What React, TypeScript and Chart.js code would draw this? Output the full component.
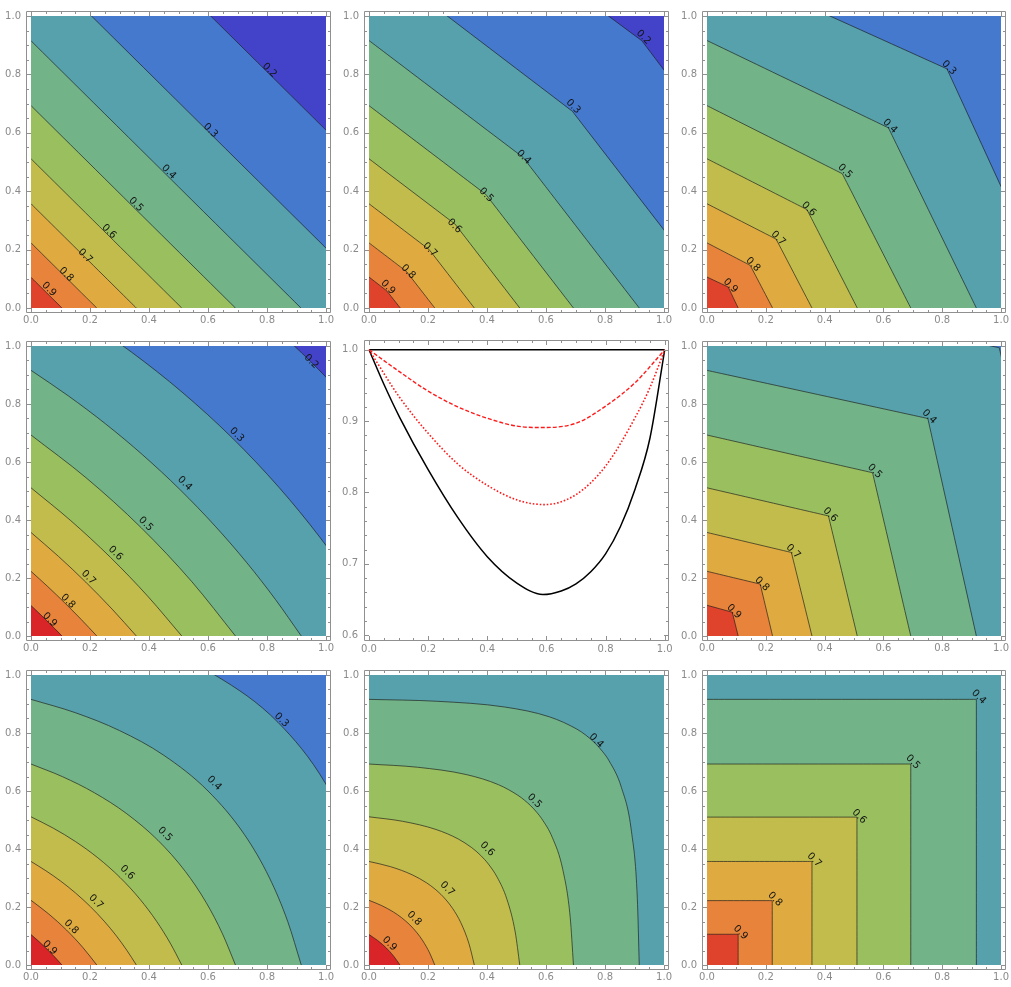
import React, { useEffect, useRef } from "react";
import { Chart, registerables } from "chart.js";

Chart.register(...registerables);

type Pt = [number, number];

// ---------------- tick labels ----------------
const UNIT_TICKS = [0, 0.2, 0.4, 0.6, 0.8, 1.0];
const CENTER_Y_TICKS = [0.6, 0.7, 0.8, 0.9, 1.0];
const UNIT_RANGE = [0, 1];
const LEVEL_TEXT = ["0.9", "0.8", "0.7", "0.6", "0.5", "0.4", "0.3", "0.2"];

// ---------------- panel 1 ----------------
const P1_CONTOURS: Pt[][] = [
  [[0, 0.105], [0.105, 0]],
  [[0, 0.223], [0.223, 0]],
  [[0, 0.357], [0.357, 0]],
  [[0, 0.511], [0.511, 0]],
  [[0, 0.693], [0.693, 0]],
  [[0, 0.915], [0.915, 0]],
  [[0, 1.205], [1.205, 0]],
  [[0, 1.609], [1.609, 0]],
];
const P1_LABELS: Pt[] = [[0.061, 0.064], [0.119, 0.115], [0.184, 0.178], [0.264, 0.262], [0.356, 0.354], [0.467, 0.466], [0.608, 0.608], [0.808, 0.814]];

// ---------------- panel 2 ----------------
const P2_CONTOURS: Pt[][] = [
  [[0, 0.106], [0.06, 0.059], [0.106, 0]],
  [[0, 0.223], [0.127, 0.125], [0.223, 0]],
  [[0, 0.357], [0.204, 0.2], [0.357, 0]],
  [[0, 0.511], [0.292, 0.287], [0.511, 0]],
  [[0, 0.693], [0.396, 0.389], [0.693, 0]],
  [[0, 0.916], [0.522, 0.516], [0.916, 0]],
  [[0, 1.204], [0.689, 0.674], [1.204, 0]],
  [[0, 1.609], [0.925, 0.915], [1.609, 0]],
];
const P2_LABELS: Pt[] = [[0.064, 0.071], [0.133, 0.124], [0.207, 0.199], [0.29, 0.281], [0.397, 0.387], [0.524, 0.516], [0.692, 0.69], [0.93, 0.927]];

// ---------------- panel 3 ----------------
const P3_CONTOURS: Pt[][] = [
  [[0, 0.106], [0.072, 0.072], [0.106, 0]],
  [[0, 0.223], [0.147, 0.146], [0.223, 0]],
  [[0, 0.357], [0.235, 0.236], [0.357, 0]],
  [[0, 0.511], [0.34, 0.337], [0.511, 0]],
  [[0, 0.693], [0.46, 0.46], [0.693, 0]],
  [[0, 0.916], [0.617, 0.617], [0.916, 0]],
  [[0, 1.19], [0.816, 0.819], [1.19, 0]],
];
const P3_LABELS: Pt[] = [[0.08, 0.076], [0.156, 0.149], [0.242, 0.239], [0.346, 0.339], [0.469, 0.468], [0.622, 0.622], [0.823, 0.823]];

// ---------------- panel 4 ----------------
const P4_CONTOURS: Pt[][] = [
  [[0, 0.105], [0.0266, 0.0794], [0.0531, 0.0531], [0.0794, 0.0266], [0.105, 0]],
  [[0, 0.223], [0.0572, 0.17], [0.1143, 0.1143], [0.17, 0.0572], [0.223, 0]],
  [[0, 0.357], [0.0928, 0.2748], [0.1857, 0.1857], [0.2748, 0.0928], [0.357, 0]],
  [[0, 0.511], [0.1351, 0.3975], [0.2702, 0.2702], [0.3975, 0.1351], [0.511, 0]],
  [[0, 0.693], [0.1867, 0.5456], [0.3734, 0.3734], [0.5456, 0.1867], [0.693, 0]],
  [[0, 0.916], [0.1262, 0.8283], [0.2525, 0.7316], [0.3787, 0.6243], [0.5049, 0.5049], [0.6243, 0.3787], [0.7316, 0.2525], [0.8283, 0.1262], [0.916, 0]],
  [[0, 1.204], [0.1706, 1.0984], [0.3413, 0.9784], [0.5119, 0.841], [0.6826, 0.6826], [0.841, 0.5119], [0.9784, 0.3413], [1.0984, 0.1706], [1.204, 0]],
  [[0, 1.609], [0.2368, 1.4844], [0.4735, 1.3371], [0.7103, 1.161], [0.947, 0.947], [1.161, 0.7103], [1.3371, 0.4735], [1.4844, 0.2368], [1.609, 0]],
];
const P4_LABELS: Pt[] = [[0.0635, 0.056], [0.125, 0.12], [0.195, 0.2016], [0.2865, 0.2856], [0.389, 0.386], [0.521, 0.526], [0.697, 0.694], [0.95, 0.946]];

// ---------------- panel 6 ----------------
const P6_CONTOURS: Pt[][] = [
  [[0, 0.106], [0.086, 0.082], [0.106, 0]],
  [[0, 0.223], [0.181, 0.179], [0.223, 0]],
  [[0, 0.357], [0.287, 0.288], [0.357, 0]],
  [[0, 0.511], [0.413, 0.414], [0.511, 0]],
  [[0, 0.693], [0.563, 0.563], [0.693, 0]],
  [[0, 0.916], [0.751, 0.75], [0.916, 0]],
  [[0, 1.21], [0.994, 0.994], [1.215, 0]],
];
const P6_LABELS: Pt[] = [[0.092, 0.084], [0.187, 0.179], [0.293, 0.291], [0.419, 0.418], [0.57, 0.568], [0.756, 0.756]];

// ---------------- panel 7 ----------------
const P7_CONTOURS: Pt[][] = [
  [[0, 0.105], [0.0272, 0.0807], [0.0545, 0.0545], [0.0807, 0.0272], [0.105, 0]],
  [[0, 0.223], [0.0602, 0.1759], [0.1205, 0.1205], [0.1759, 0.0602], [0.223, 0]],
  [[0, 0.357], [0.0503, 0.3251], [0.1007, 0.2892], [0.151, 0.2482], [0.2013, 0.2013], [0.2482, 0.151], [0.2892, 0.1007], [0.3251, 0.0503], [0.357, 0]],
  [[0, 0.511], [0.0754, 0.4719], [0.1509, 0.4255], [0.2263, 0.3698], [0.3018, 0.3018], [0.3698, 0.2263], [0.4255, 0.1509], [0.4719, 0.0754], [0.511, 0]],
  [[0, 0.693], [0.1075, 0.649], [0.2151, 0.5938], [0.3226, 0.5231], [0.4301, 0.4301], [0.5231, 0.3226], [0.5938, 0.2151], [0.649, 0.1075], [0.693, 0]],
  [[0, 0.916], [0.15, 0.8701], [0.3, 0.8084], [0.45, 0.7232], [0.6, 0.6], [0.7232, 0.45], [0.8084, 0.3], [0.8701, 0.15], [0.916, 0]],
  [[0, 1.204], [0.2092, 1.16], [0.4185, 1.0954], [0.6277, 0.9972], [0.8369, 0.8369], [0.9972, 0.6277], [1.0954, 0.4185], [1.16, 0.2092], [1.204, 0]],
];
const P7_LABELS: Pt[] = [[0.0635, 0.059], [0.136, 0.131], [0.22, 0.218], [0.326, 0.319], [0.454, 0.451], [0.621, 0.627], [0.849, 0.845]];

// ---------------- panel 8 ----------------
const P8_CONTOURS: Pt[][] = [
  [[0, 0.105], [0.0293, 0.0845], [0.0469, 0.0698], [0.0586, 0.0586], [0.0698, 0.0469], [0.0845, 0.0293], [0.105, 0]],
  [[0, 0.223], [0.0415, 0.2056], [0.083, 0.1826], [0.1107, 0.163], [0.1384, 0.1384], [0.163, 0.1107], [0.1826, 0.083], [0.2056, 0.0415], [0.223, 0]],
  [[0, 0.357], [0.0731, 0.339], [0.1462, 0.3111], [0.1949, 0.2835], [0.2241, 0.2615], [0.2436, 0.2436], [0.2615, 0.2241], [0.2835, 0.1949], [0.3111, 0.1462], [0.339, 0.0731], [0.357, 0]],
  [[0, 0.511], [0.1135, 0.4956], [0.2269, 0.4674], [0.3026, 0.4345], [0.348, 0.4048], [0.3631, 0.3924], [0.3782, 0.3782], [0.3924, 0.3631], [0.4048, 0.348], [0.4345, 0.3026], [0.4674, 0.2269], [0.4956, 0.1135], [0.511, 0]],
  [[0, 0.693], [0.1646, 0.6819], [0.3291, 0.6568], [0.4389, 0.6217], [0.5047, 0.5852], [0.5266, 0.5685], [0.5486, 0.5486], [0.5685, 0.5266], [0.5852, 0.5047], [0.6217, 0.4389], [0.6568, 0.3291], [0.6819, 0.1646], [0.693, 0]],
  [[0, 0.916], [0.2297, 0.9094], [0.4593, 0.8897], [0.6125, 0.8554], [0.7043, 0.8135], [0.735, 0.7925], [0.7656, 0.7656], [0.7925, 0.735], [0.8135, 0.7043], [0.8554, 0.6125], [0.8897, 0.4593], [0.9094, 0.2297], [0.916, 0]],
];
const P8_LABELS: Pt[] = [[0.069, 0.073], [0.153, 0.16], [0.265, 0.263], [0.401, 0.4], [0.561, 0.5655], [0.77, 0.773]];

// ---------------- panel 9 ----------------
const P9_CONTOURS: Pt[][] = [
  [[0, 0.106], [0.106, 0.106], [0.106, 0]],
  [[0, 0.222], [0.222, 0.222], [0.222, 0]],
  [[0, 0.357], [0.357, 0.357], [0.357, 0]],
  [[0, 0.51], [0.51, 0.51], [0.51, 0]],
  [[0, 0.693], [0.693, 0.693], [0.693, 0]],
  [[0, 0.916], [0.916, 0.916], [0.916, 0]],
];
const P9_LABELS: Pt[] = [[0.114, 0.112], [0.231, 0.227], [0.365, 0.362], [0.518, 0.512], [0.7, 0.7], [0.924, 0.924]];

// ---------------- centre panel curves ----------------
const CURVE_SOLID: Pt[] = [[0, 1], [0.05, 0.952], [0.104, 0.905], [0.2, 0.832], [0.3, 0.765], [0.4, 0.71], [0.5, 0.673], [0.588, 0.657], [0.65, 0.662], [0.7, 0.672], [0.75, 0.689], [0.8, 0.714], [0.85, 0.752], [0.9, 0.805], [0.95, 0.876], [1, 1]];
const CURVE_DOTTED: Pt[] = [[0, 1], [0.104, 0.933], [0.2, 0.883], [0.3, 0.84], [0.4, 0.81], [0.504, 0.789], [0.594, 0.783], [0.7, 0.797], [0.8, 0.837], [0.9, 0.905], [0.95, 0.947], [1, 1]];
const CURVE_DASHED: Pt[] = [[0, 1], [0.104, 0.969], [0.2, 0.942], [0.3, 0.92], [0.4, 0.904], [0.5, 0.893], [0.58, 0.891], [0.7, 0.897], [0.8, 0.921], [0.9, 0.954], [1, 1]];
const CURVE_UPPER: Pt[] = [[0, 1], [1, 1]];

// ---------------- styles ----------------
const BAND_COLORS = ["#df432c", "#e7833a", "#dfaa40", "#c1bc4b", "#99bf5f", "#72b487", "#56a1ab", "#4479cd", "#4343c9"];
const RED_SMOOTH = "#d92528";
const CONTOUR_LINE = "rgba(30,30,30,0.75)";
const FRAME_COLOR = "#909090";
const TICK_TEXT = "#8a8a8a";
const TICK_FONT = { family: "'DejaVu Sans', sans-serif", size: 10 };

const COL_LEFT = [31, 369, 707];
const COL_W = [299, 299, 298];
const ROW_TOP = [9, 339, 668];
const ROW_H = [299, 297, 297];

const framePlugin = {
  id: "mmaFrame",
  afterDraw(chart: any, _a: any, opts: any) {
    const { ctx, chartArea: a, scales } = chart;
    const xs = scales.x;
    const ys = scales.y;
    const p = opts.pad || 0;
    const L = Math.floor(a.left - p) + 0.5;
    const R = Math.ceil(a.right + p) - 0.5;
    const T = Math.floor(a.top - p) + 0.5;
    const B = Math.ceil(a.bottom + p) - 0.5;
    ctx.save();
    ctx.strokeStyle = FRAME_COLOR;
    ctx.lineWidth = 1;
    ctx.beginPath();
    ctx.rect(L, T, R - L, B - T);
    ctx.stroke();
    const isMajor = (v: number, majors: number[]) => majors.some((m) => Math.abs(m - v) < 1e-6);
    ctx.beginPath();
    for (let v = opts.xFrom; v <= opts.xTo + 1e-9; v += opts.xStep) {
      const px = Math.round(xs.getPixelForValue(v)) + 0.5;
      const len = isMajor(v, opts.xMajor) ? 4.5 : 2.5;
      ctx.moveTo(px, B);
      ctx.lineTo(px, B - len);
      ctx.moveTo(px, T);
      ctx.lineTo(px, T + len);
    }
    for (let v = opts.yFrom; v <= opts.yTo + 1e-9; v += opts.yStep) {
      const py = Math.round(ys.getPixelForValue(v)) + 0.5;
      const len = isMajor(v, opts.yMajor) ? 4.5 : 2.5;
      ctx.moveTo(L, py);
      ctx.lineTo(L + len, py);
      ctx.moveTo(R, py);
      ctx.lineTo(R - len, py);
    }
    ctx.stroke();
    ctx.restore();
  },
};

const contourLabelPlugin = {
  id: "contourLabels",
  afterDatasetsDraw(chart: any, _a: any, opts: any) {
    if (!opts.items) return;
    const { ctx, scales } = chart;
    ctx.save();
    ctx.font = "10px 'DejaVu Sans', sans-serif";
    ctx.fillStyle = "#141414";
    ctx.textAlign = "center";
    ctx.textBaseline = "middle";
    opts.items.forEach((pt: Pt, i: number) => {
      ctx.save();
      ctx.translate(scales.x.getPixelForValue(pt[0]), scales.y.getPixelForValue(pt[1]));
      ctx.rotate(Math.PI / 4);
      ctx.fillText(opts.texts[i], 0, 0);
      ctx.restore();
    });
    ctx.restore();
  },
};

function axisCommon(extra: any) {
  return {
    type: "linear",
    grid: { display: false, drawTicks: false },
    border: { display: false },
    ...extra,
  };
}

function contourConfig(spec: any) {
  const datasets: any[] = spec.contours.map((pts: Pt[], i: number) => ({
    data: pts.map(([x, y]) => ({ x, y })),
    borderColor: CONTOUR_LINE,
    borderWidth: 0.9,
    backgroundColor: i === 0 ? spec.topColor : BAND_COLORS[i],
    fill: { value: 0 },
    pointRadius: 0,
    cubicInterpolationMode: spec.smooth ? "monotone" : "default",
    tension: spec.smooth ? 0 : 0.0001,
    borderJoinStyle: "miter",
    clip: 0,
  }));
  datasets.push({
    data: UNIT_RANGE.map((x) => ({ x, y: UNIT_RANGE[1] })),
    borderColor: "rgba(0,0,0,0)",
    borderWidth: 0,
    backgroundColor: BAND_COLORS[spec.contours.length],
    fill: { value: UNIT_RANGE[0] },
    pointRadius: 0,
    clip: 0,
  });
  return {
    type: "line",
    data: { datasets },
    options: {
      responsive: false,
      animation: false,
      events: [],
      layout: { padding: { left: 0, top: 9, right: 10, bottom: 0 } },
      elements: { line: { capBezierPoints: false }, point: { radius: 0 } },
      scales: {
        x: axisCommon({
          min: 0,
          max: 1,
          afterBuildTicks: (s: any) => { s.ticks = UNIT_TICKS.map((v) => ({ value: v })); },
          afterFit: (s: any) => { s.height = 24; },
          ticks: { padding: 6, color: TICK_TEXT, font: TICK_FONT, autoSkip: false, maxRotation: 0, callback: (v: any) => Number(v).toFixed(1) },
        }),
        y: axisCommon({
          min: 0,
          max: 1,
          afterBuildTicks: (s: any) => { s.ticks = UNIT_TICKS.map((v) => ({ value: v })); },
          afterFit: (s: any) => { s.width = 31; },
          ticks: { padding: 10, color: TICK_TEXT, font: TICK_FONT, autoSkip: false, callback: (v: any) => Number(v).toFixed(1) },
        }),
      },
      plugins: {
        legend: { display: false },
        tooltip: { enabled: false },
        filler: { drawTime: "beforeDatasetsDraw", propagate: false },
        mmaFrame: { pad: 4.5, xFrom: 0, xTo: 1, xStep: 0.05, xMajor: UNIT_TICKS, yFrom: 0, yTo: 1, yStep: 0.05, yMajor: UNIT_TICKS },
        contourLabels: { items: spec.labels, texts: LEVEL_TEXT },
      },
    },
    plugins: [framePlugin, contourLabelPlugin],
  };
}

function centerConfig() {
  const line = (pts: Pt[], color: string, width: number, dash: number[]) => ({
    data: pts.map(([x, y]) => ({ x, y })),
    borderColor: color,
    borderWidth: width,
    borderDash: dash,
    borderCapStyle: "butt",
    fill: false,
    pointRadius: 0,
    cubicInterpolationMode: "monotone",
  });
  return {
    type: "line",
    data: {
      datasets: [
        line(CURVE_DASHED, "#ff1a1a", 1.4, [4, 2]),
        line(CURVE_DOTTED, "#ff1a1a", 1.6, [1.6, 1.9]),
        line(CURVE_SOLID, "#000000", 1.5, []),
        line(CURVE_UPPER, "#000000", 1.6, []),
      ],
    },
    options: {
      responsive: false,
      animation: false,
      events: [],
      layout: { padding: { left: 0, top: 5, right: 8, bottom: 0 } },
      elements: { point: { radius: 0 } },
      scales: {
        x: axisCommon({
          min: -0.0169,
          max: 1.0145,
          afterBuildTicks: (s: any) => { s.ticks = UNIT_TICKS.map((v) => ({ value: v })); },
          afterFit: (s: any) => { s.height = 20; },
          ticks: { padding: 2, color: TICK_TEXT, font: TICK_FONT, autoSkip: false, maxRotation: 0, callback: (v: any) => Number(v).toFixed(1) },
        }),
        y: axisCommon({
          min: 0.5918,
          max: 1.0137,
          afterBuildTicks: (s: any) => { s.ticks = CENTER_Y_TICKS.map((v) => ({ value: v })); },
          afterFit: (s: any) => { s.width = 27; },
          ticks: { padding: 6, color: TICK_TEXT, font: TICK_FONT, autoSkip: false, callback: (v: any) => Number(v).toFixed(1) },
        }),
      },
      plugins: {
        legend: { display: false },
        tooltip: { enabled: false },
        mmaFrame: { pad: 0, xFrom: 0, xTo: 1, xStep: 0.05, xMajor: UNIT_TICKS, yFrom: 0.6, yTo: 1, yStep: 0.02, yMajor: CENTER_Y_TICKS },
      },
    },
    plugins: [framePlugin],
  };
}

function ChartCanvas({ left, top, width, height, makeConfig }: any) {
  const ref = useRef<HTMLCanvasElement>(null);
  useEffect(() => {
    const chart = new Chart(ref.current as HTMLCanvasElement, makeConfig());
    return () => chart.destroy();
  }, []);
  return (
    <canvas
      ref={ref}
      width={width}
      height={height}
      style={{ position: "absolute", left, top, width, height }}
    />
  );
}

const CONTOUR_PANELS = [
  { col: 0, row: 0, contours: P1_CONTOURS, labels: P1_LABELS, smooth: false, topColor: BAND_COLORS[0] },
  { col: 1, row: 0, contours: P2_CONTOURS, labels: P2_LABELS, smooth: false, topColor: BAND_COLORS[0] },
  { col: 2, row: 0, contours: P3_CONTOURS, labels: P3_LABELS, smooth: false, topColor: BAND_COLORS[0] },
  { col: 0, row: 1, contours: P4_CONTOURS, labels: P4_LABELS, smooth: true, topColor: RED_SMOOTH },
  { col: 2, row: 1, contours: P6_CONTOURS, labels: P6_LABELS, smooth: false, topColor: BAND_COLORS[0] },
  { col: 0, row: 2, contours: P7_CONTOURS, labels: P7_LABELS, smooth: true, topColor: RED_SMOOTH },
  { col: 1, row: 2, contours: P8_CONTOURS, labels: P8_LABELS, smooth: true, topColor: RED_SMOOTH },
  { col: 2, row: 2, contours: P9_CONTOURS, labels: P9_LABELS, smooth: false, topColor: BAND_COLORS[0] },
];

export default function App() {
  return (
    <div style={{ position: "absolute", left: 0, top: 0, width: 1011, height: 987, background: "#ffffff", overflow: "hidden" }}>
      {CONTOUR_PANELS.map((p, i) => (
        <ChartCanvas
          key={i}
          left={COL_LEFT[p.col] - 31}
          top={ROW_TOP[p.row] - 9}
          width={COL_W[p.col] + 31 + 10}
          height={ROW_H[p.row] + 9 + 24}
          makeConfig={() => contourConfig(p)}
        />
      ))}
      <ChartCanvas left={337} top={328} width={340} height={333} makeConfig={centerConfig} />
    </div>
  );
}
